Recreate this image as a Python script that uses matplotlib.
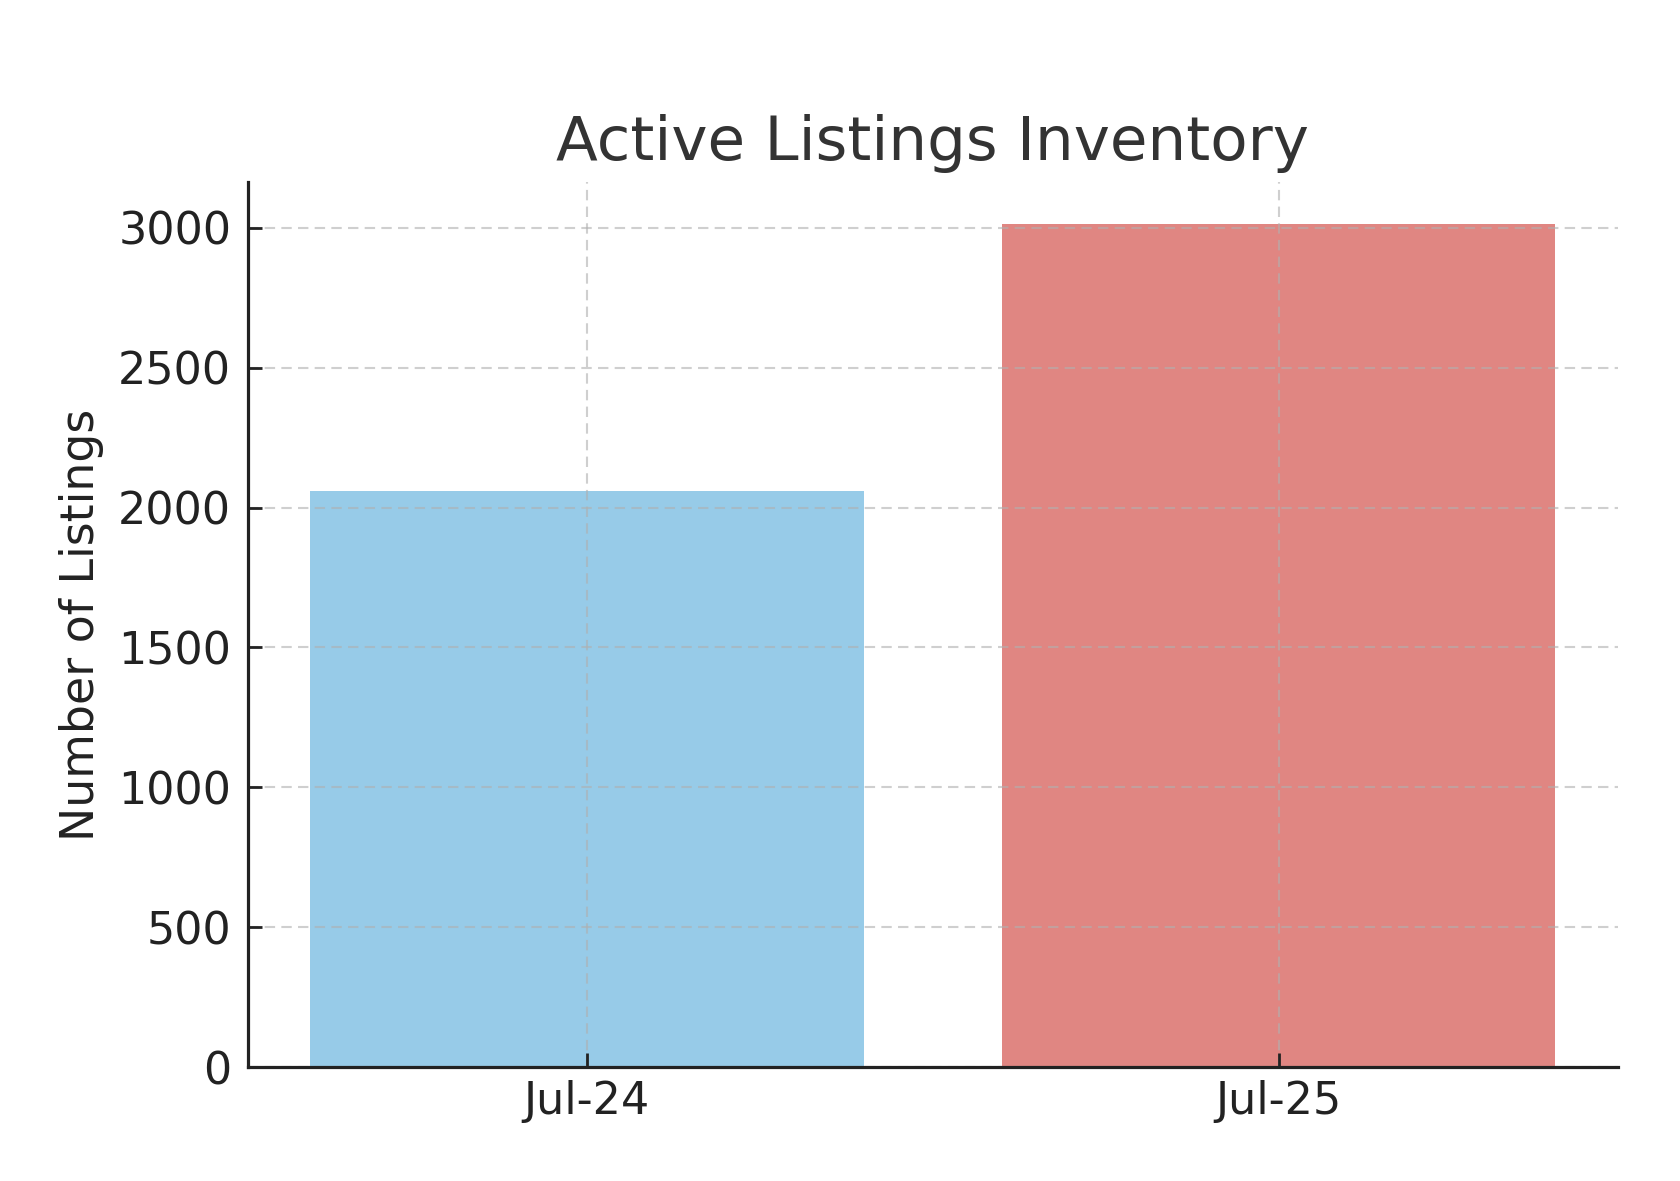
import matplotlib
matplotlib.use("Agg")
import matplotlib.pyplot as plt

categories = ["Jul-24", "Jul-25"]
listings = [2060, 3015]
bar_colors = ["#97CBE8", "#E08682"]

plt.rcParams['font.family'] = ['DejaVu Sans']

fig = plt.figure(figsize=(16.8, 11.81), dpi=100)
ax = fig.add_axes([0.1476, 0.0965, 0.8153, 0.7495])

ax.bar(categories, listings, width=0.8, color=bar_colors)
ax.set_xlim(-0.49, 1.49)
ax.set_ylim(0, 3164)

ax.set_title("Active Listings Inventory", fontsize=44, color="#333333", pad=16)
ax.set_ylabel("Number of Listings", fontsize=33, color="#222222", labelpad=10)

for s in ["top", "right"]:
    ax.spines[s].set_visible(False)
for s in ["left", "bottom"]:
    ax.spines[s].set_linewidth(2.3)
    ax.spines[s].set_color("#222222")
    ax.spines[s].set_zorder(4)

ax.tick_params(axis="both", direction="in", length=10, width=2.0, color="#222222",
               labelsize=32, labelcolor="#222222")
ax.tick_params(axis="y", pad=12)
ax.tick_params(axis="x", pad=9)

ax.set_axisbelow(False)
ax.grid(True, linestyle="--", linewidth=1.5, color="#b0b0b0", alpha=0.6, dashes=(5, 3))

fig.savefig("out.png", dpi=100)
